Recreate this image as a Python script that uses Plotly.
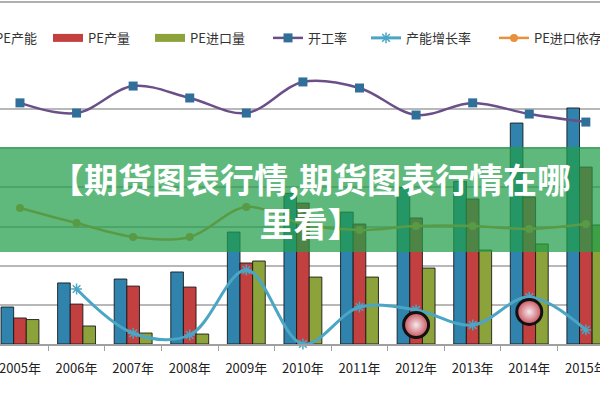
import plotly.graph_objects as go

years = ["2005年", "2006年", "2007年", "2008年", "2009年", "2010年",
         "2011年", "2012年", "2013年", "2014年", "2015年"]

# bars (left axis, hidden units)
pe_capacity = [189, 312, 332, 368, 572, 770, 674, 800, 830, 1129, 1206]
pe_output = [133, 204, 296, 291, 414, 720, 613, 644, 741, 751, 904]
pe_import = [125, 92, 56, 51, 424, 342, 342, 388, 480, 511, 608]

# lines (right axis, hidden units)
operating_rate = [123.2, 118.0, 131.8, 125.7, 118.0, 133.9, 130.8, 117.0, 123.2, 117.5, 113.4]
capacity_growth = [None, 28.1, 5.5, 4.6, 37.8, 0.0, 18.9, 17.4, 9.7, 24.0, 7.2]
import_dependence = [69.5, 61.8, 54.7, 54.7, 70.0, 61.3, 58.3, 60.3, 60.3, 58.8, 61.3]

highlight_years = ["2012年", "2014年"]
highlight_values = [9.7, 16.4]

banner_text = "【期货图表行情,期货图表行情在哪<br>里看】"

BLUE = "#2f83ad"
RED = "#c2403f"
GREEN = "#8ca23a"
PURPLE = "#6a4f88"
SQUARE = "#2f6f99"
CYAN = "#4aa6c4"
ORANGE = "#e8913a"

fig = go.Figure()

bar_line = dict(color="rgba(20,20,20,0.85)", width=1)
for name, vals, col in [("PE产能", pe_capacity, BLUE),
                        ("PE产量", pe_output, RED),
                        ("PE进口量", pe_import, GREEN)]:
    fig.add_trace(go.Bar(x=years, y=vals, name=name, marker=dict(color=col, line=bar_line),
                         showlegend=False, yaxis="y"))

# legend swatches for bars
for name, col, lg in [("PE产能", BLUE, "legend"), ("PE产量", RED, "legend2"),
                      ("PE进口量", GREEN, "legend3")]:
    fig.add_trace(go.Scatter(x=[None], y=[None], mode="lines", name=name, legend=lg,
                             line=dict(color=col, width=8), yaxis="y"))

fig.add_trace(go.Scatter(x=years, y=operating_rate, name="开工率", mode="lines+markers",
                         legend="legend4",
                         line=dict(color=PURPLE, width=2.5, shape="spline", smoothing=1),
                         marker=dict(symbol="square", size=9, color=SQUARE), yaxis="y2"))
fig.add_trace(go.Scatter(x=years, y=capacity_growth, name="产能增长率", mode="lines+markers",
                         legend="legend5",
                         line=dict(color=CYAN, width=3, shape="spline", smoothing=1),
                         marker=dict(symbol="asterisk-open", size=9, color=CYAN,
                                     line=dict(color=CYAN, width=1.5)),
                         cliponaxis=False, yaxis="y2"))
fig.add_trace(go.Scatter(x=years, y=import_dependence, name="PE进口依存度", mode="lines+markers",
                         legend="legend6",
                         line=dict(color=ORANGE, width=2.5, shape="spline", smoothing=1),
                         marker=dict(symbol="circle", size=8, color=ORANGE), yaxis="y2"))
fig.add_trace(go.Scatter(x=highlight_years, y=highlight_values, mode="markers", showlegend=False,
                         marker=dict(symbol="circle", size=25, color="#c9505a",
                                     gradient=dict(type="radial", color="#f4eaee"),
                                     line=dict(color="#111111", width=3)),
                         yaxis="y2"))

legend_x = {"legend": -0.075, "legend2": 0.08, "legend3": 0.25,
            "legend4": 0.4467, "legend5": 0.61, "legend6": 0.8233}
legend_layout = {}
for key, xpos in legend_x.items():
    legend_layout[key] = dict(orientation="h", x=xpos, xanchor="left", y=1.117,
                              yanchor="middle", font=dict(size=13, color="#333333"),
                              bgcolor="rgba(0,0,0,0)", itemwidth=30)

fig.update_layout(
    width=600, height=400,
    margin=dict(l=0, r=0, t=70, b=56, autoexpand=False),
    paper_bgcolor="white", plot_bgcolor="white",
    barmode="group", bargap=0.33, bargroupgap=0,
    font=dict(family="Noto Sans CJK SC", color="#333333", size=12),
    xaxis=dict(type="category", range=[-0.353, 10.25], tickson="boundaries",
               ticks="outside", ticklen=5, tickcolor="#a0a0a0", showline=True,
               linecolor="#a0a0a0", linewidth=1.5, showgrid=False,
               tickfont=dict(size=13, color="#222222"), ticklabelstandoff=12),
    yaxis=dict(range=[0, 1400], dtick=200, showticklabels=False, showgrid=True,
               gridcolor="#b8b8b8", gridwidth=1.5, zeroline=False, ticks=""),
    yaxis2=dict(range=[0, 140], overlaying="y", side="right", showticklabels=False,
                showgrid=False, zeroline=False, ticks=""),
    shapes=[
        dict(type="rect", xref="paper", yref="paper", x0=0, x1=1, y0=0.336, y1=0.719,
             fillcolor="rgba(33,158,74,0.72)", line=dict(width=0), layer="above"),
        dict(type="line", xref="paper", yref="paper", x0=0, x1=1, y0=1.248, y1=1.248,
             line=dict(color="#b0b0b0", width=2)),
    ],
    annotations=[
        dict(text=banner_text, xref="paper", yref="paper", x=0.517, y=0.522,
             xanchor="center", yanchor="middle", showarrow=False,
             font=dict(family="Noto Sans CJK SC", size=34, color="white", weight="bold"))
    ],
    **legend_layout,
)

fig.write_html("out.html", config={"displayModeBar": False},
               post_script="document.body.style.margin='0px';")
